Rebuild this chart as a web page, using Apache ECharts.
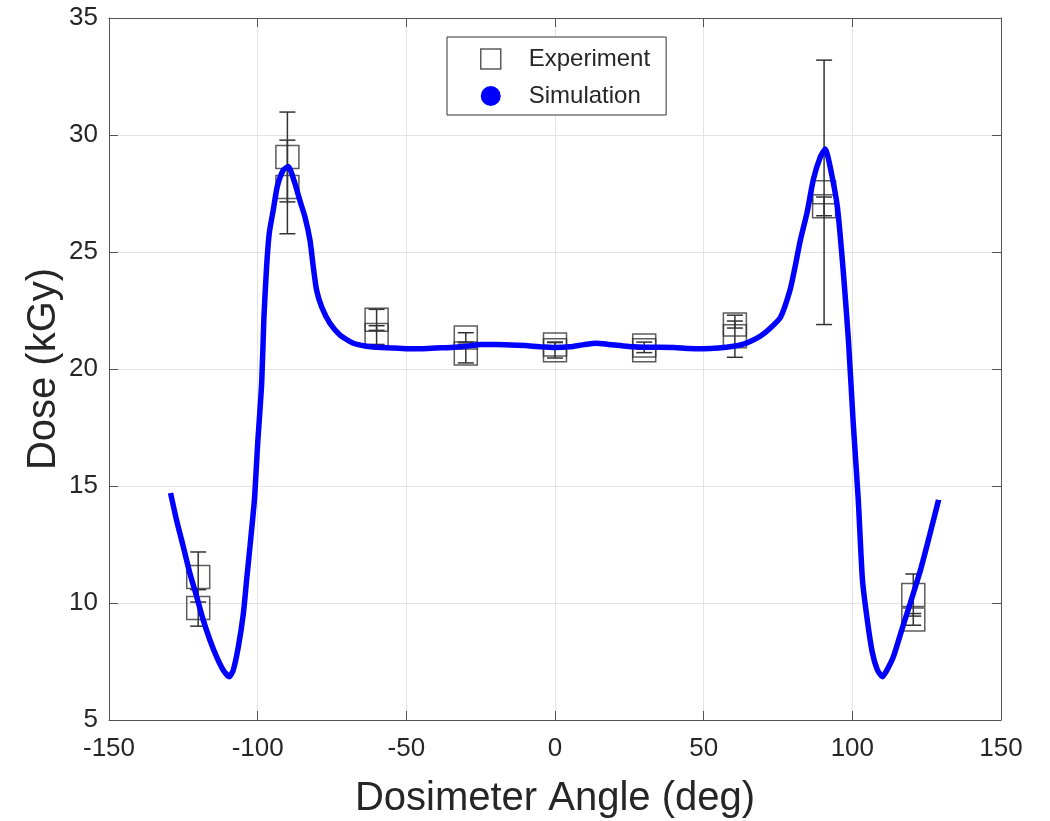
<!DOCTYPE html>
<html>
<head>
<meta charset="utf-8">
<script src="https://cdn.jsdelivr.net/npm/echarts@6/dist/echarts.min.js"></script>
<style>html,body{margin:0;padding:0;background:#fff;}#chart{width:1050px;height:821px;}</style>
</head>
<body>
<div id="chart"></div>
<script>
// Experiment (dosimeter) measurements
const expX = [-120, -120, -90, -90, -60, -60, -30, -30, 0, 0, 30, 30, 60.5, 60.5, 90.5, 90.5, 120.5, 120.5];
const expY = [11.11, 9.79, 29.06, 27.78, 22.1, 21.45, 21.35, 20.66, 21.05, 20.8, 21.0, 20.8, 21.9, 21.4, 27.55, 26.95, 10.34, 9.3];
const expErr = [1.07, 0.78, 1.92, 2.0, 0.45, 0.4, 0.2, 0.4, 0.1, 0.33, 0.15, 0.1, 0.15, 0.9, 5.65, 0.4, 0.9, 0.25];

// Simulation curve
const simX = [-129.3,-127.3,-125,-122.8,-120.5,-118.3,-116,-113.8,-111.6,-109.55,-108.2,-106.5,-104.8,-103.7,-102.6,-101.1,-100,-98.65,-97.9,-97,-96.1,-94.75,-93.4,-91.4,-89.7,-87.5,-85.8,-84.1,-82.4,-81.3,-80.2,-78.5,-75.7,-72.3,-67.8,-62,-55,-50,-45,-40,-35,-30,-25,-20,-15,-10,-5,0,5,10,14,18,22,26,30,35,40,45,50,55,60,63,66,69,72,75.8,79.1,80.8,82.5,84.8,86.9,89.2,90.9,92.6,95,97,98.7,100.3,102,103.4,105,106.7,108.4,110.1,111.5,113.8,116.5,119.5,122.9,126,129];
const simY = [14.7,13.55,12.4,11.27,10.27,9.27,8.4,7.7,7.14,6.85,7.14,8.13,9.56,11.0,12.4,14.4,16.8,19.4,22.2,24.36,25.8,26.8,27.8,28.5,28.65,27.94,27.2,26.5,25.5,24.37,23.38,22.66,21.95,21.45,21.1,20.95,20.9,20.87,20.87,20.9,20.92,20.97,21.05,21.05,21.03,21.0,20.95,20.92,20.95,21.05,21.1,21.05,21.0,20.95,20.93,20.93,20.92,20.88,20.87,20.9,20.97,21.05,21.2,21.4,21.7,22.2,23.4,24.4,25.5,26.7,28.1,29.05,29.4,28.6,26.9,24.1,21.2,17.7,14.4,11.0,9.3,7.9,7.15,6.85,7.1,7.7,8.8,10.0,11.4,12.9,14.4];

// Axes
const xMin = -150, xMax = 150, xStep = 50;
const yMin = 5, yMax = 35, yStep = 5;
const xTitle = 'Dosimeter Angle (deg)';
const yTitle = 'Dose (kGy)';

const FONT = "'Liberation Sans', Arial, Helvetica, sans-serif";
const TXT = '#262626';
const AX = '#555';

const expData = expX.map((x, i) => [x, expY[i]]);
const errData = expX.map((x, i) => [x, expY[i], expErr[i]]);
const simData = simX.map((x, i) => [x, simY[i]]);

const chart = echarts.init(document.getElementById('chart'), null, {renderer: 'canvas'});

const baseAxis = {
  axisLine: {show: true, onZero: false, lineStyle: {color: AX, width: 1}},
  axisTick: {show: true, inside: true, length: 9, lineStyle: {color: AX}},
  splitLine: {show: false},
  axisLabel: {show: false}
};

chart.setOption({
  animation: false,
  backgroundColor: '#fff',
  grid: {left: 109, right: 49, top: 18, bottom: 101, containLabel: false, outerBoundsMode: 'none'},
  legend: {
    orient: 'vertical',
    left: 447, top: 37,
    padding: [10, 16, 7, 33],
    itemGap: 13,
    itemWidth: 66, itemHeight: 20,
    symbolKeepAspect: true,
    borderColor: '#333', borderWidth: 1,
    backgroundColor: '#fff',
    textStyle: {fontFamily: FONT, fontSize: 24, color: TXT},
    data: [
      {name: 'Experiment', icon: 'path://M0,0L10,0L10,10L0,10Z', itemStyle: {color: '#fff', borderColor: '#333', borderWidth: 1.5}},
      {name: 'Simulation', icon: 'circle', itemStyle: {color: '#0000ff', borderWidth: 0}}
    ]
  },
  xAxis: [
    Object.assign({}, baseAxis, {
      type: 'value', min: xMin, max: xMax, interval: xStep, position: 'bottom',
      axisLabel: {show: true, fontFamily: FONT, fontSize: 26, color: TXT, margin: 16},
      splitLine: {show: true, lineStyle: {color: '#e3e3e3', width: 1}},
      name: xTitle, nameLocation: 'middle', nameGap: 59, nameMoveOverlap: false,
      nameTextStyle: {fontFamily: FONT, fontSize: 40, color: TXT}
    }),
    Object.assign({}, baseAxis, {type: 'value', min: xMin, max: xMax, interval: xStep, position: 'top'})
  ],
  yAxis: [
    Object.assign({}, baseAxis, {
      type: 'value', min: yMin, max: yMax, interval: yStep, position: 'left',
      axisLabel: {show: true, fontFamily: FONT, fontSize: 26, color: TXT, margin: 11},
      splitLine: {show: true, lineStyle: {color: '#e3e3e3', width: 1}},
      name: yTitle, nameLocation: 'middle', nameGap: 45, nameMoveOverlap: false,
      nameTextStyle: {fontFamily: FONT, fontSize: 40, color: TXT}
    }),
    Object.assign({}, baseAxis, {type: 'value', min: yMin, max: yMax, interval: yStep, position: 'right'})
  ],
  series: [
    {
      name: 'ErrorBars',
      type: 'custom',
      z: 2,
      data: errData,
      renderItem: function (params, api) {
        const x = api.value(0), y = api.value(1), e = api.value(2);
        const top = api.coord([x, y + e]);
        const bot = api.coord([x, y - e]);
        const w = 8;
        const st = {stroke: '#333', lineWidth: 1.5};
        return {
          type: 'group',
          children: [
            {type: 'line', shape: {x1: top[0], y1: top[1], x2: bot[0], y2: bot[1]}, style: st},
            {type: 'line', shape: {x1: top[0] - w, y1: top[1], x2: top[0] + w, y2: top[1]}, style: st},
            {type: 'line', shape: {x1: bot[0] - w, y1: bot[1], x2: bot[0] + w, y2: bot[1]}, style: st}
          ]
        };
      }
    },
    {
      name: 'Experiment',
      type: 'scatter',
      z: 3,
      symbol: 'rect',
      symbolSize: 23,
      data: expData,
      itemStyle: {color: 'rgba(255,255,255,0)', borderColor: '#333', borderWidth: 1.5}
    },
    {
      name: 'Simulation',
      type: 'line',
      z: 4,
      data: simData,
      showSymbol: false,
      symbol: 'none',
      smooth: 0.2,
      color: '#0000ff',
      lineStyle: {color: '#0000ff', width: 5.5}
    }
  ]
});
</script>
</body>
</html>
